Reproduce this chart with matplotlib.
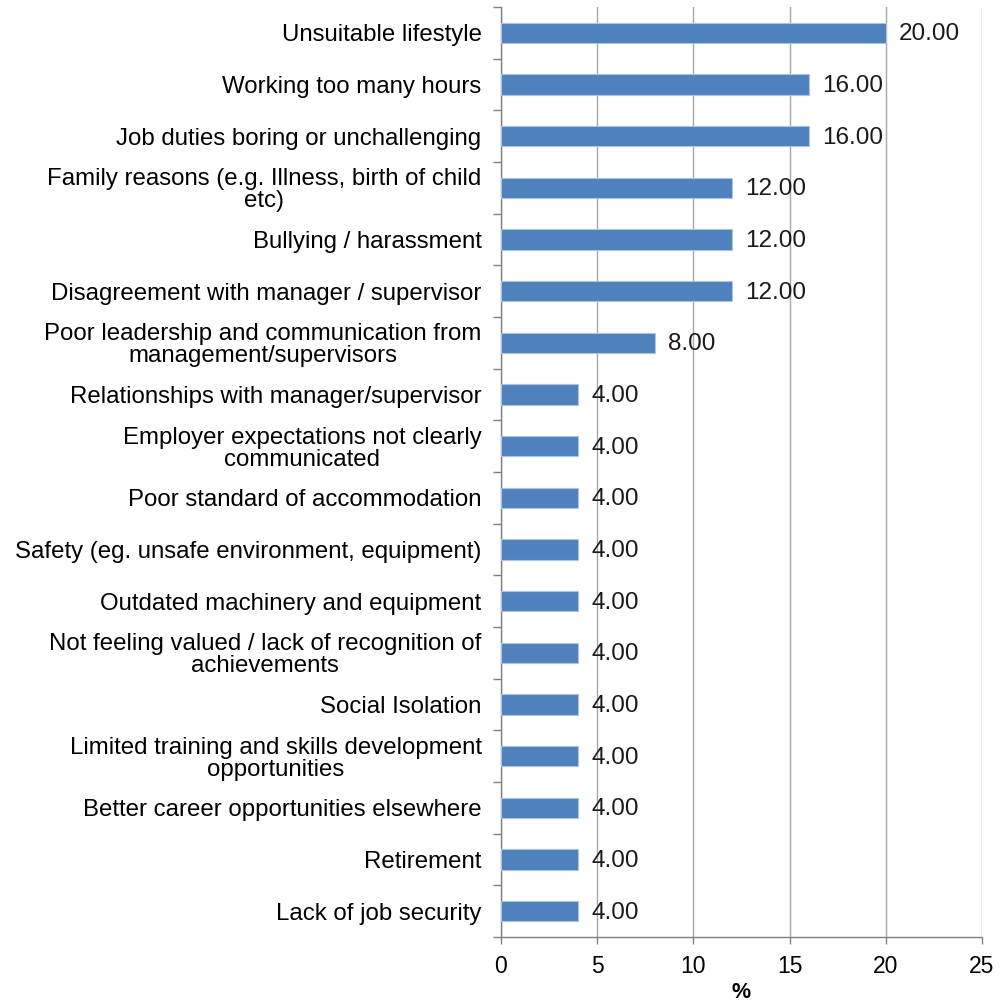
import numpy as np
import matplotlib.pyplot as plt
from matplotlib.ticker import FixedLocator

plt.rcParams['font.family'] = ['Liberation Sans', 'DejaVu Sans']

# Reasons for leaving (top to bottom as shown)
reasons = [
    "Unsuitable lifestyle",
    "Working too many hours",
    "Job duties boring or unchallenging",
    "Family reasons (e.g. Illness, birth of child\netc)",
    "Bullying / harassment",
    "Disagreement with manager / supervisor",
    "Poor leadership and communication from\nmanagement/supervisors",
    "Relationships with manager/supervisor",
    "Employer expectations not clearly\ncommunicated",
    "Poor standard of accommodation",
    "Safety (eg. unsafe environment, equipment)",
    "Outdated machinery and equipment",
    "Not feeling valued / lack of recognition of\nachievements",
    "Social Isolation",
    "Limited training and skills development\nopportunities",
    "Better career opportunities elsewhere",
    "Retirement",
    "Lack of job security",
]
percent = [20, 16, 16, 12, 12, 12, 8, 4, 4, 4, 4, 4, 4, 4, 4, 4, 4, 4]
x_ticks = [0, 5, 10, 15, 20, 25]

bar_color = "#4F81BD"
grid_color = "#A6A6A6"

fig = plt.figure(figsize=(9.99, 10.07), dpi=100)
ax = fig.add_axes([0.5015, 0.0695, 0.4815, 0.9235])

y = np.arange(len(reasons))
ax.barh(y, percent, height=0.39, color=bar_color, edgecolor="#A9C4E6",
        linewidth=0.8, zorder=3)

for yi, v in zip(y, percent):
    ax.annotate(f"{v:.2f}", (v, yi), xytext=(9.5, -1), textcoords="offset points",
                ha="left", va="center", fontsize=17.5, color="#1a1a1a", zorder=4)

ax.set_xlim(0, 25)
ax.set_ylim(len(reasons) - 0.5, -0.5)
ax.set_xticks(x_ticks)
ax.set_xticklabels([str(t) for t in x_ticks], fontsize=16.5)
ax.set_yticks(y)
ax.set_yticklabels(reasons, fontsize=17.3, ha="right", multialignment="center",
                   linespacing=1.0)
ax.yaxis.set_minor_locator(FixedLocator(np.arange(-0.5, len(reasons), 1.0)))

ax.tick_params(axis="y", which="major", length=0, pad=14)
ax.tick_params(axis="y", which="minor", length=6, color="#808080", width=1)
ax.tick_params(axis="x", which="major", length=5, color="#808080", width=1, pad=8)

ax.xaxis.grid(True, color=grid_color, linewidth=1, zorder=0)
ax.set_axisbelow(True)
for side in ("top", "right"):
    ax.spines[side].set_visible(False)
for side in ("left", "bottom"):
    ax.spines[side].set_color("#808080")
    ax.spines[side].set_linewidth(1)

ax.set_xlabel("%", fontsize=15.5, fontweight="bold", labelpad=3)

fig.savefig("out.png", dpi=100)
